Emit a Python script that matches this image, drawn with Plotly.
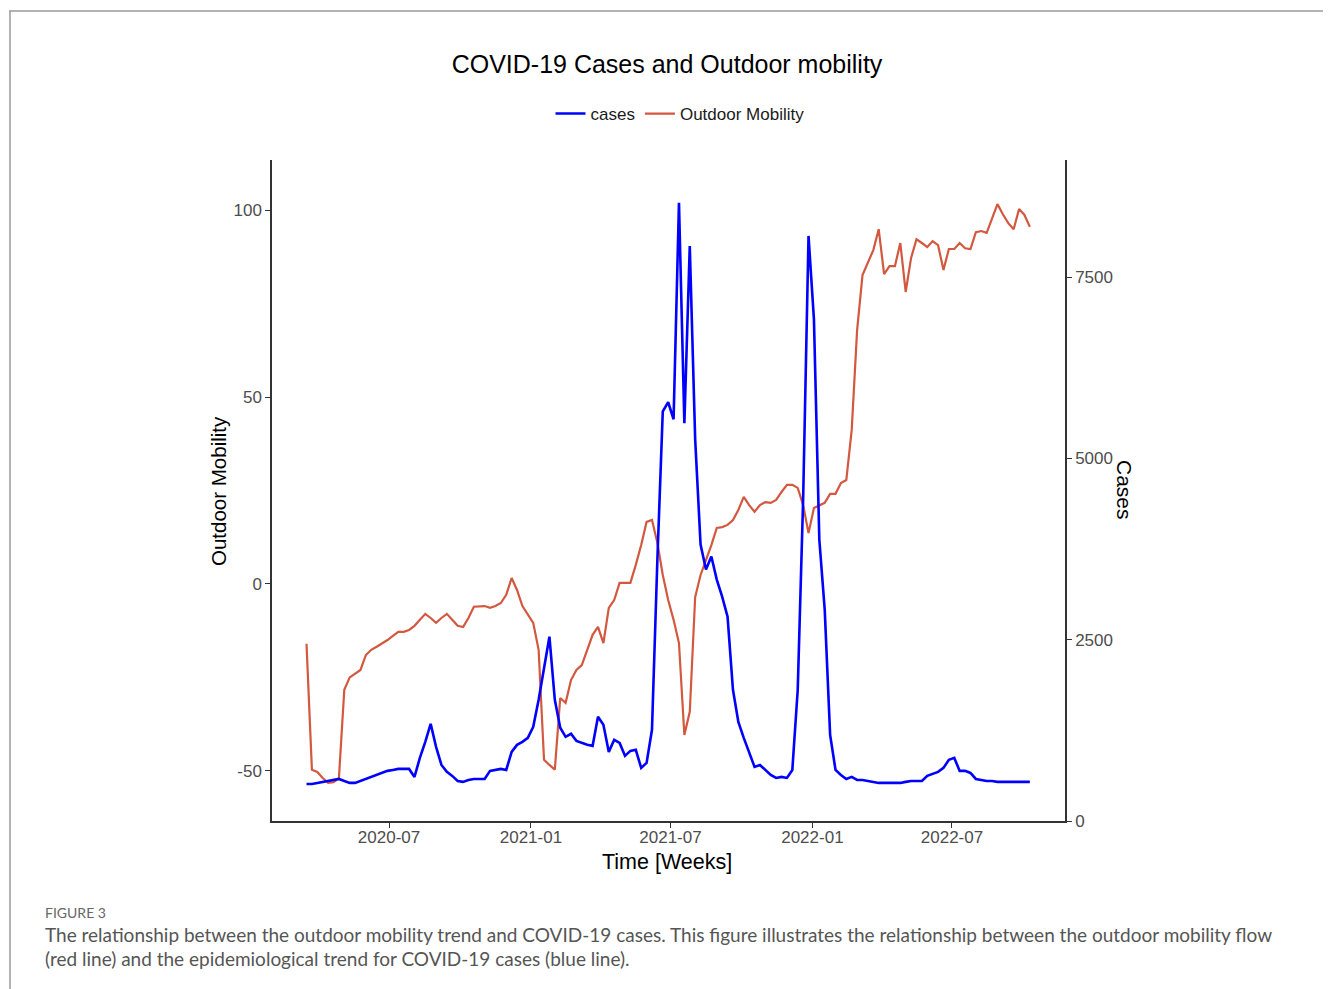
import pandas as pd
import plotly.graph_objects as go

# ---- data (weekly) ----
start_date = "2020-03-16"
cases = [
    511, 511, 525, 539, 552, 566, 580, 552, 525, 525,
    552, 580, 608, 635, 663, 691, 704, 718, 718, 718,
    608, 870, 1091, 1340, 1022, 773, 677, 622, 552, 539,
    566, 580, 580, 580, 691, 704, 718, 704, 953, 1050,
    1091, 1146, 1298, 1671, 2086, 2541, 1671, 1285, 1160, 1202,
    1105, 1077, 1050, 1036, 1436, 1326, 953, 1119, 1077, 898,
    967, 981, 732, 801, 1257, 3605, 5649, 5773, 5539, 8522,
    5483, 7928, 5262, 3812, 3467, 3646, 3329, 3094, 2818, 1809,
    1367, 1146, 953, 746, 773, 704, 635, 594, 608, 594,
    704, 1809, 4434, 8066, 6920, 3881, 2914, 1188, 704, 635,
    580, 608, 566, 566, 552, 539, 525, 525, 525, 525,
    525, 539, 552, 552, 552, 622, 649, 677, 732, 843,
    870, 691, 691, 663, 580, 566, 552, 552, 539, 539,
    539, 539, 539, 539, 539,
]
mobility = [
    -16, -49.7, -50.3, -51.9, -53.2, -53, -52, -28.3, -25, -24,
    -23, -19, -17.6, -16.8, -16, -15, -13.9, -12.8, -12.8, -12.3,
    -11.2, -9.6, -8, -9.1, -10.4, -9.1, -8, -9.6, -11.2, -11.5,
    -9.1, -6.1, -5.9, -5.9, -6.4, -5.9, -5.1, -2.9, 1.6, -1.6,
    -5.9, -8.3, -10.4, -17.6, -47, -48.4, -49.7, -30.5, -31.8, -25.7,
    -23, -21.7, -17.6, -13.6, -11.5, -15.8, -6.4, -4.3, 0.3, 0.3,
    0.3, 5.1, 10.4, 16.6, 17.1, 11, 2.4, -4.3, -9.6, -15.8,
    -40.4, -34.2, -3.5, 2.4, 6.4, 10.4, 15, 15.2, 15.8, 17.1,
    19.8, 23.3, 21.1, 19.3, 21.1, 21.9, 21.7, 22.5, 24.6, 26.5,
    26.5, 25.7, 21.1, 13.6, 20.3, 21.1, 21.7, 24.1, 24.1, 27,
    27.8, 41.2, 67.9, 82.6, 86.1, 89.3, 94.9, 82.9, 85, 85,
    91.2, 78.1, 87.2, 92.2, 91.2, 90.1, 91.7, 90.6, 84, 89.6,
    89.6, 91.2, 89.8, 89.6, 94.1, 94.4, 93.9, 97.9, 101.6, 98.9,
    96.5, 94.9, 100.3, 98.7, 95.5,
]
dates = pd.date_range(start_date, periods=len(cases), freq="7D")

x_tick_vals = ["2020-07-01", "2021-01-01", "2021-07-01", "2022-01-01", "2022-07-01"]
x_tick_text = ["2020-07", "2021-01", "2021-07", "2022-01", "2022-07"]
mob_ticks = [-50, 0, 50, 100]
mob_tick_text = ["-50", "0", "50", "100"]
case_ticks = [0, 2500, 5000, 7500]
case_tick_text = ["0", "2500", "5000", "7500"]

# ---- layout geometry (page pixels; body has an 8px margin) ----
OFF = 8
PW, PH = 1331, 989
W, H = PW - OFF, PH - OFF
L, R, T, B = 272, 1065, 160, 821


def px(xp):
    return (xp - L) / (R - L)


def py(yp):
    return (B - yp) / (B - T)


FONT = "Liberation Sans, Arial, sans-serif"
CAP = "Lato, sans-serif"
AX = "#333333"
TICK = "#4D4D4D"

fig = go.Figure()
fig.add_trace(go.Scatter(x=dates, y=cases, name="cases", mode="lines",
                         line=dict(color="#0000FF", width=2.6), yaxis="y2"))
fig.add_trace(go.Scatter(x=dates, y=mobility, name="Outdoor Mobility", mode="lines",
                         line=dict(color="#D2583F", width=2.2), yaxis="y"))

axis_common = dict(showgrid=False, zeroline=False, showline=True, linecolor=AX, linewidth=1.5,
                   ticks="outside", ticklen=5, tickcolor=AX, tickwidth=1.2,
                   tickfont=dict(size=17, color=TICK))

fig.update_layout(
    width=W, height=H,
    margin=dict(l=L - OFF, r=W - (R - OFF), t=T - OFF, b=H - (B - OFF), pad=0),
    paper_bgcolor="white", plot_bgcolor="white",
    font=dict(family=FONT, color="#000000"),
    title=dict(text="COVID-19 Cases and Outdoor mobility", x=(667 - OFF) / W, xanchor="center",
               y=1 - (64 - OFF) / H, yanchor="middle", font=dict(size=25, color="#000000")),
    showlegend=True,
    legend=dict(orientation="h", x=px(680), xanchor="center", y=py(114), yanchor="middle",
                font=dict(size=17, color="#1a1a1a"), bgcolor="rgba(0,0,0,0)"),
    xaxis=dict(type="date", range=["2020-01-31 06:00", "2022-11-24 14:00"],
               tickvals=x_tick_vals, ticktext=x_tick_text, ticklabelstandoff=-5, **axis_common),
    yaxis=dict(range=[-63.4, 113.4], tickvals=mob_ticks, ticktext=mob_tick_text, **axis_common),
    yaxis2=dict(range=[0, 9113], tickvals=case_ticks, ticktext=case_tick_text,
                overlaying="y", side="right", **axis_common),
)

# axis titles
fig.add_annotation(text="Outdoor Mobility", xref="paper", yref="paper", x=px(218), y=py(491),
                   showarrow=False, textangle=-90, font=dict(size=20.5, color="#000000"),
                   xanchor="center", yanchor="middle")
fig.add_annotation(text="Time [Weeks]", xref="paper", yref="paper", x=px(667), y=py(862),
                   showarrow=False, font=dict(size=21.5, color="#000000"),
                   xanchor="center", yanchor="middle")
fig.add_annotation(text="Cases", xref="paper", yref="paper", x=px(1125), y=py(490),
                   showarrow=False, textangle=90, font=dict(size=21, color="#000000"),
                   xanchor="center", yanchor="middle")

# caption
fig.add_annotation(text="FIGURE 3", xref="paper", yref="paper", x=px(43), y=py(912),
                   showarrow=False, xanchor="left", yanchor="middle",
                   font=dict(family=CAP, size=14, color="#666666"))
fig.add_annotation(text="The relationship between the outdoor mobility trend and COVID-19 cases. "
                        "This figure illustrates the relationship between the outdoor mobility flow",
                   xref="paper", yref="paper", x=px(43), y=py(935), showarrow=False,
                   xanchor="left", yanchor="middle",
                   font=dict(family=CAP, size=19, color="#555555"))
fig.add_annotation(text="(red line) and the epidemiological trend for COVID-19 cases (blue line).",
                   xref="paper", yref="paper", x=px(43), y=py(958), showarrow=False,
                   xanchor="left", yanchor="middle",
                   font=dict(family=CAP, size=19, color="#555555"))

# frame of the figure panel
fig.add_shape(type="line", xref="paper", yref="paper", x0=px(9), x1=px(PW), y0=py(11), y1=py(11),
              line=dict(color="#9a9a9a", width=1.5))
fig.add_shape(type="line", xref="paper", yref="paper", x0=px(10), x1=px(10), y0=py(11), y1=py(PH),
              line=dict(color="#9a9a9a", width=1.5))

fig.write_html("out.html")
